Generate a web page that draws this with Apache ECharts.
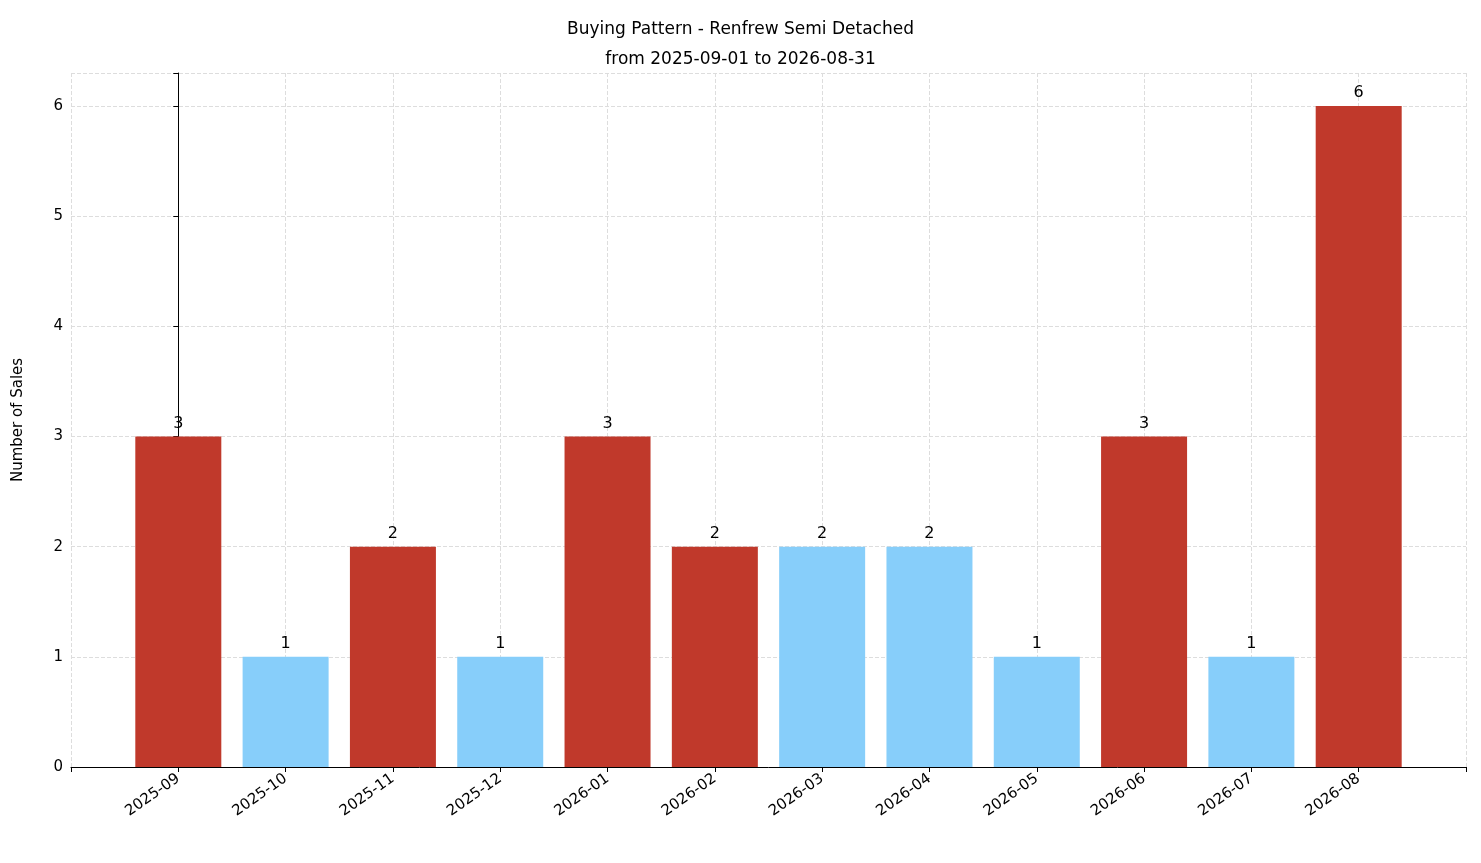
<!DOCTYPE html>
<html>
<head>
    <meta charset="utf-8">
    <title>Buying Pattern</title>
    <script src="https://cdn.jsdelivr.net/npm/echarts@6/dist/echarts.min.js"></script>
</head>
<body style="margin:0">
    <div id="main" style="width:1481px;height:863px;"></div>
    <script>
        var months = ['2025-09','2025-10','2025-11','2025-12','2026-01','2026-02','2026-03','2026-04','2026-05','2026-06','2026-07','2026-08'];
        var sales = [3,1,2,1,3,2,2,2,1,3,1,6];
        var barColors = ['#C0392B','#87CEFA','#C0392B','#87CEFA','#C0392B','#C0392B','#87CEFA','#87CEFA','#87CEFA','#C0392B','#87CEFA','#C0392B'];

        var chart = echarts.init(document.getElementById('main'));
        var font = 'DejaVu Sans';
        chart.setOption({
            animation: false,
            textStyle: { fontFamily: font },
            title: {
                text: 'Buying Pattern - Renfrew Semi Detached\nfrom 2025-09-01 to 2026-08-31',
                left: 'center', top: 10,
                textStyle: { fontFamily: font, fontSize: 17, fontWeight: 'normal', color: '#000', lineHeight: 30 }
            },
            grid: { left: 71, right: 15, top: 73, bottom: 96 },
            xAxis: {
                type: 'value', min: -1, max: 12, interval: 1,
                axisLine: { lineStyle: { color: '#000' } },
                axisTick: { show: true, length: 5, lineStyle: { color: '#000' } },
                axisLabel: {
                    rotate: 35, color: '#000', fontSize: 15, margin: 10,
                    formatter: function (v) { return months[v] || ''; }
                },
                splitLine: { show: true, lineStyle: { type: 'dashed', color: '#ddd' } }
            },
            yAxis: {
                type: 'value', min: 0, max: 6.3, interval: 1,
                name: 'Number of Sales', nameLocation: 'middle', nameGap: 45,
                nameTextStyle: { fontSize: 15, color: '#000' },
                axisLine: { show: true, lineStyle: { color: '#000' } },
                axisTick: { show: true, length: 5, lineStyle: { color: '#000' } },
                axisLabel: { color: '#000', fontSize: 15, formatter: function (v) { return Number.isInteger(v) ? v : ''; } },
                splitLine: { show: true, lineStyle: { type: 'dashed', color: '#ddd' } }
            },
            series: [{
                type: 'bar',
                barWidth: 86,
                data: sales.map(function (v, i) {
                    return { value: [i, v], itemStyle: { color: barColors[i] } };
                }),
                label: { show: true, position: 'top', color: '#000', fontSize: 16, formatter: function (p) { return p.value[1]; } }
            }]
        });
    </script>
</body>
</html>
